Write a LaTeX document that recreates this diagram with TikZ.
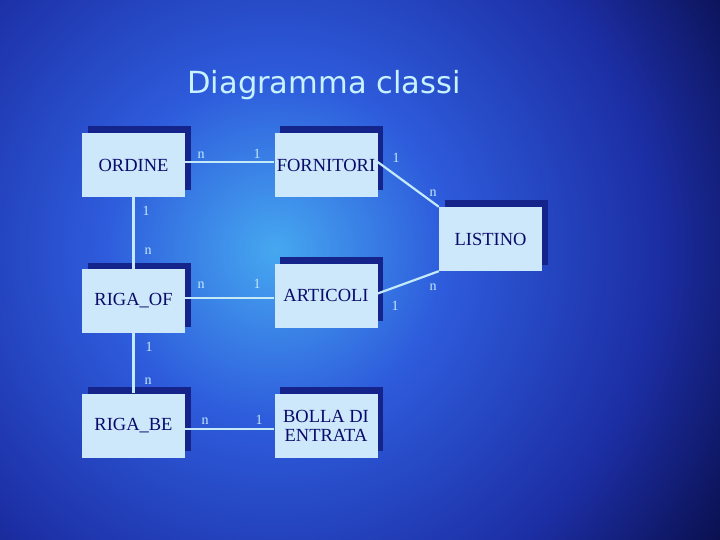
\documentclass[tikz,border=0pt]{standalone}
\usepackage{fontspec}
\setmainfont{Liberation Serif}
\newfontfamily\titlefont{DejaVu Sans}
\usetikzlibrary{shadows}

\definecolor{bgdark}{HTML}{0A1050}
\definecolor{bgdeep}{HTML}{1C2EA4}
\definecolor{bgmid}{HTML}{2E5CDC}
\definecolor{bglight}{HTML}{46A8F0}
\definecolor{boxfill}{HTML}{CCE8FA}
\definecolor{boxshadow}{HTML}{14248A}
\definecolor{boxtext}{HTML}{0A0A6A}
\definecolor{linkcol}{HTML}{C4EAF8}
\definecolor{titlecol}{HTML}{C8F2FF}

\pgfdeclareradialshading{slidebg}{\pgfpoint{0bp}{0bp}}{%
  color(0bp)=(bglight); color(8bp)=(bgmid); color(18bp)=(bgdeep);
  color(25bp)=(bgdark); color(50bp)=(bgdark)}

\tikzset{
	klasse/.style={
		draw=none, fill=boxfill, text=boxtext,
		minimum width=103pt, minimum height=64pt, inner sep=0pt,
		align=center, font=\fontsize{18.5}{19}\selectfont,
		drop shadow={shadow xshift=5.5pt, shadow yshift=6.5pt, fill=boxshadow, opacity=1}
	},
	link/.style={draw=linkcol, line width=2.2pt},
	mult/.style={text=linkcol, inner sep=0pt, font=\fontsize{14}{14}\selectfont}
}

\begin{document}
\begin{tikzpicture}[x=1pt,y=-1pt]
%Hintergrund
\useasboundingbox (0,0) rectangle (720,540);
\fill[bgdark] (0,0) rectangle (720,540);
\begin{scope}
\clip (0,0) rectangle (720,540);
\shade[shading=slidebg] (275,250) circle (530);
\end{scope}

%Titel
\node[text=titlecol, font=\titlefont\fontsize{30.5}{32}\selectfont] (title) at (324,85) {Diagramma classi};

%Klassen
\node[klasse] (ordine) at (133.5,165) {ORDINE};
\node[klasse] (fornitori) at (326,165) {FORNITORI};
\node[klasse] (listino) at (490.5,239) {LISTINO};
\node[klasse] (rigaof) at (133.5,301) {RIGA\_OF};
\node[klasse] (articoli) at (326,295.5) {ARTICOLI};
\node[klasse] (rigabe) at (133.5,425.5) {RIGA\_BE};
\node[klasse] (bolla) at (326,425.5) {BOLLA DI\\ENTRATA};

%Beziehungen
\draw[link] ([yshift=3pt]ordine.east) -- ([yshift=3pt]fornitori.west);
\draw[link] ([yshift=3pt]fornitori.east) -- (listino.north west);
\draw[link] ([yshift=2pt]articoli.east) -- (listino.south west);
\draw[link] (ordine.south) -- (rigaof.north);
\draw[link] ([yshift=3pt]rigaof.east) -- ([yshift=3pt]articoli.west |- rigaof.east);
\draw[link] (rigaof.south) -- (rigabe.north);
\draw[link] ([yshift=-3.5pt]rigabe.east) -- ([yshift=-3.5pt]bolla.west);

%Kardinalitaeten
\node[mult] (m1) at (201,155) {n};
\node[mult] (m2) at (257,154) {1};
\node[mult] (m3) at (396,158) {1};
\node[mult] (m4) at (433,193) {n};
\node[mult] (m5) at (146,211) {1};
\node[mult] (m6) at (148,251) {n};
\node[mult] (m7) at (201,285) {n};
\node[mult] (m8) at (257,284) {1};
\node[mult] (m9) at (395,306) {1};
\node[mult] (m10) at (433,287) {n};
\node[mult] (m11) at (149,347) {1};
\node[mult] (m12) at (148,381) {n};
\node[mult] (m13) at (205,421) {n};
\node[mult] (m14) at (259,420) {1};
\end{tikzpicture}
\end{document}
